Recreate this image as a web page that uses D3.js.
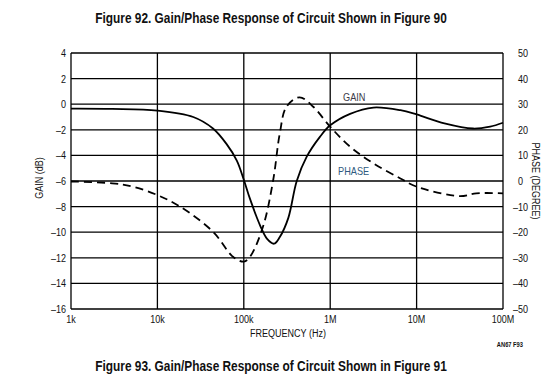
<!DOCTYPE html>
<html>
<head>
<meta charset="utf-8">
<script src="https://cdn.jsdelivr.net/npm/d3@7"></script>
<style>
  html, body { margin: 0; padding: 0; background: #fff; }
  svg { display: block; }
  text { font-family: "Liberation Sans", Arial, Helvetica, sans-serif; fill: #111; }
</style>
</head>
<body>
<svg id="chart" width="551" height="381"></svg>
<script>
// ---- data ----
const freqTicks = [1e3, 1e4, 1e5, 1e6, 1e7, 1e8];
const freqLabels = ["1k", "10k", "100k", "1M", "10M", "100M"];
const gainTicks = [4, 2, 0, -2, -4, -6, -8, -10, -12, -14, -16];
const phaseTicks = [50, 40, 30, 20, 10, 0, -10, -20, -30, -40, -50];

const gainFreq = [1e3, 3e3, 1e4, 2.6e4, 4.4e4, 6.3e4, 8.3e4, 1e5, 1.18e5, 1.55e5, 1.85e5, 2.24e5, 2.6e5, 3.27e5, 4.1e5, 5.35e5, 7.6e5, 1e6, 1.7e6, 3.16e6, 6.5e6, 1e7, 2.1e7, 4.5e7, 7.1e7, 1e8];
const gainDb   = [-0.35, -0.37, -0.5, -1.0, -1.9, -3.1, -4.4, -5.9, -7.4, -9.5, -10.5, -10.9, -10.4, -8.9, -6.0, -4.1, -2.55, -1.65, -0.75, -0.26, -0.47, -0.8, -1.5, -1.9, -1.75, -1.45];

const phaseFreq = [1e3, 3e3, 5.2e3, 1e4, 1.83e4, 4.4e4, 7.5e4, 1e5, 1.18e5, 1.67e5, 2.19e5, 2.61e5, 3.12e5, 4.42e5, 6.36e5, 1e6, 1.7e6, 3.16e6, 6.5e6, 1e7, 3.16e7, 4.9e7, 1e8];
const phaseDeg  = [-0.2, -0.9, -2.2, -5.5, -10, -19.8, -29.6, -31.5, -29.6, -17.8, 0.4, 18.6, 29, 32.7, 29, 21.2, 13.4, 6.9, 1, -2.2, -5.9, -4.8, -4.8];

const titleTop = "Figure 92. Gain/Phase Response of Circuit Shown in Figure 90";
const titleBottom = "Figure 93. Gain/Phase Response of Circuit Shown in Figure 91";

// ---- layout ----
const L = 71, R = 503, T = 53, B = 309;
const NARROW = 0.82;
const svg = d3.select("#chart");

const x = d3.scaleLog().domain([1e3, 1e8]).range([L, R]);
const yG = d3.scaleLinear().domain([-16, 4]).range([B, T]);
const yP = d3.scaleLinear().domain([-50, 50]).range([B, T]);

// gridlines
const grid = svg.append("g").attr("stroke", "#000").attr("stroke-width", 1.3);
grid.selectAll("line.h").data(gainTicks).join("line")
  .attr("x1", L).attr("x2", R)
  .attr("y1", d => yG(d)).attr("y2", d => yG(d));
grid.selectAll("line.v").data(freqTicks).join("line")
  .attr("y1", T).attr("y2", B)
  .attr("x1", d => x(d)).attr("x2", d => x(d));

const tf = (px, py, extra) => `translate(${px},${py})${extra || ""} scale(${NARROW},1)`;

// left axis labels
const fmtNum = v => (v < 0 ? "\u2013" + Math.abs(v) : String(v));
svg.append("g").selectAll("text").data(gainTicks).join("text")
  .attr("transform", d => tf(66, yG(d))).attr("dy", "0.36em")
  .attr("text-anchor", "end").attr("font-size", 11)
  .text(fmtNum);

// right axis labels (minus hangs left)
const rg = svg.append("g");
rg.selectAll("text.n").data(phaseTicks).join("text")
  .attr("transform", d => tf(518, yP(d))).attr("dy", "0.36em")
  .attr("text-anchor", "start").attr("font-size", 11)
  .text(d => String(Math.abs(d)));
rg.selectAll("text.m").data(phaseTicks.filter(d => d < 0)).join("text")
  .attr("transform", d => tf(518, yP(d))).attr("dy", "0.36em")
  .attr("text-anchor", "end").attr("font-size", 11)
  .text("\u2013");

// bottom labels
svg.append("g").selectAll("text").data(freqTicks).join("text")
  .attr("transform", d => tf(x(d), 323))
  .attr("text-anchor", "middle").attr("font-size", 11)
  .text((d, i) => freqLabels[i]);

// axis titles
svg.append("text").attr("transform", tf(288, 337)).attr("text-anchor", "middle")
  .attr("font-size", 11).text("FREQUENCY (Hz)");
svg.append("text").attr("transform", tf(43, 178, " rotate(-90)"))
  .attr("text-anchor", "middle").attr("font-size", 11).text("GAIN (dB)");
svg.append("text").attr("transform", tf(532, 181, " rotate(90)"))
  .attr("text-anchor", "middle").attr("font-size", 11).text("PHASE (DEGREE)");

// curves
const gainLine = d3.line().x((d, i) => x(gainFreq[i])).y(d => yG(d)).curve(d3.curveCatmullRom.alpha(0.5));
const phaseLine = d3.line().x((d, i) => x(phaseFreq[i])).y(d => yP(d)).curve(d3.curveCatmullRom.alpha(0.5));

svg.append("path").attr("d", phaseLine(phaseDeg))
  .attr("fill", "none").attr("stroke", "#000").attr("stroke-width", 1.8)
  .attr("stroke-dasharray", "8,5");
svg.append("path").attr("d", gainLine(gainDb))
  .attr("fill", "none").attr("stroke", "#000").attr("stroke-width", 1.8);

// curve labels
svg.append("text").attr("transform", `translate(343,101) scale(0.92,1)`).attr("font-size", 10)
  .style("fill", "#3c3a48").text("GAIN");
svg.append("text").attr("transform", `translate(338,175) scale(0.92,1)`).attr("font-size", 10)
  .style("fill", "#2f5a80").text("PHASE");

// titles, narrowed to match the reference width
function fitTitle(txt, y, targetW) {
  const t = svg.append("text").attr("text-anchor", "middle")
    .attr("font-weight", "bold").attr("font-size", 15).text(txt)
    .attr("transform", `translate(271,${y})`);
  const w = t.node().getComputedTextLength();
  const sx = w > 0 ? targetW / w : NARROW;
  t.attr("transform", `translate(271,${y}) scale(${sx},1)`);
  return t;
}
fitTitle(titleTop, 23, 352);
fitTitle(titleBottom, 371, 352);

svg.append("text").attr("transform", tf(523, 347)).attr("text-anchor", "end")
  .attr("font-size", 7).attr("font-weight", "bold").text("AN67 F93");
</script>
</body>
</html>
